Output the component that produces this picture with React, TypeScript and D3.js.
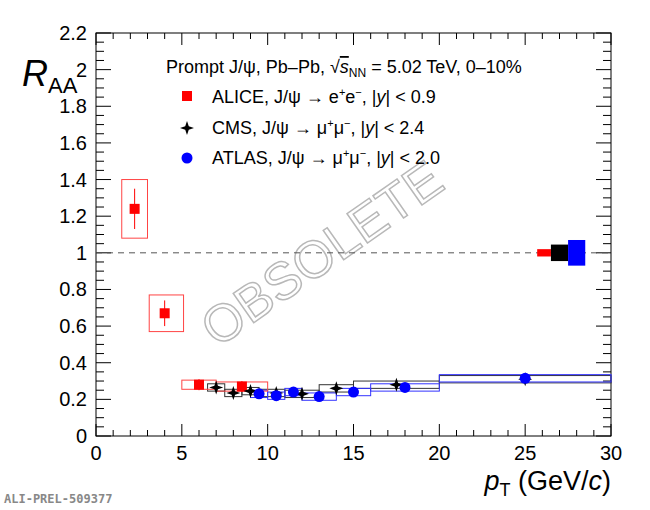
import * as d3 from 'd3';
import React from 'react';

const aliceX = [2.25, 4, 6, 8.5];
const aliceY = [1.24, 0.67, 0.28, 0.27];
const aliceStat = [0.11, 0.07, 0.03, 0.03];
const aliceBinLo = [1.5, 3.1, 5, 7];
const aliceBinHi = [3, 5.1, 7, 10];
const aliceSys = [0.16, 0.1, 0.025, 0.025];

const cmsX = [7, 8, 9, 10.5, 12, 14, 17.5, 25];
const cmsY = [0.265, 0.235, 0.245, 0.235, 0.23, 0.26, 0.28, 0.31];
const cmsBinLo = [6.5, 7.5, 8.5, 9.5, 11, 13, 15, 20];
const cmsBinHi = [7.5, 8.5, 9.5, 11, 13, 15, 20, 30];
const cmsSys = [0.02, 0.02, 0.02, 0.02, 0.02, 0.02, 0.02, 0.02];

const atlasX = [9.5, 10.5, 11.5, 13, 15, 18, 25];
const atlasY = [0.23, 0.22, 0.24, 0.215, 0.24, 0.265, 0.315];
const atlasBinLo = [9, 10, 11, 12, 14, 16, 20];
const atlasBinHi = [10, 11, 12, 14, 16, 20, 30];
const atlasSys = [0.02, 0.02, 0.02, 0.02, 0.02, 0.02, 0.02];

const globalLo = [25.7, 26.5, 27.5];
const globalHi = [26.5, 27.5, 28.5];
const globalUnc = [0.02, 0.045, 0.07];
const globalColor = ['#ff0000', '#000000', '#0000ff'];

const yTicks = [0, 0.2, 0.4, 0.6, 0.8, 1, 1.2, 1.4, 1.6, 1.8, 2, 2.2];
const xTicks = [0, 5, 10, 15, 20, 25, 30];

export default function App() {
  const x = d3.scaleLinear().domain([0, 30]).range([96, 611]);
  const y = d3.scaleLinear().domain([0, 2.2]).range([436, 33]);
  const font = 'Liberation Sans, Arial, sans-serif';
  const minorY = d3.range(0, 2.2001, 0.05);
  const minorX = d3.range(0, 30.001, 1);
  const isMajorY = (t) => Math.abs(t * 5 - Math.round(t * 5)) < 1e-6;

  const boxes = (lo, hi, ys, sys, color) =>
    ys.map((v, i) => (
      <rect key={i} x={x(lo[i])} y={y(v + sys[i])} width={x(hi[i]) - x(lo[i])} height={y(v - sys[i]) - y(v + sys[i])}
        fill="none" stroke={color} strokeWidth={1} />
    ));

  const star = (cx, cy, k) => {
    const pts = d3.range(8).map((j) => {
      const a = (j * Math.PI) / 4 - Math.PI / 2;
      const r = j % 2 === 0 ? 7 : 2.5;
      return [cx + r * Math.cos(a), cy + r * Math.sin(a)];
    });
    return <polygon key={k} points={pts.map((p) => p.join(',')).join(' ')} fill="#000" />;
  };

  return (
    <svg width={650} height={510} style={{ position: 'absolute', left: 0, top: 0 }} fontFamily={font}>
      <rect width={650} height={510} fill="#fff" />
      <rect x={96} y={33} width={515} height={403} fill="none" stroke="#000" />
      {minorY.map((t, i) => (
        <line key={'my' + i} x1={96} x2={isMajorY(t) ? 111 : 104} y1={y(t)} y2={y(t)} stroke="#000" />
      ))}
      {minorY.map((t, i) => (
        <line key={'myr' + i} x1={611} x2={isMajorY(t) ? 596 : 603} y1={y(t)} y2={y(t)} stroke="#000" />
      ))}
      {minorX.map((t, i) => (
        <line key={'mx' + i} y1={436} y2={t % 5 === 0 ? 424 : 430} x1={x(t)} x2={x(t)} stroke="#000" />
      ))}
      {minorX.map((t, i) => (
        <line key={'mxt' + i} y1={33} y2={t % 5 === 0 ? 45 : 39} x1={x(t)} x2={x(t)} stroke="#000" />
      ))}
      {yTicks.map((t) => (
        <text key={'yt' + t} x={87} y={y(t) + 7} textAnchor="end" fontSize={20}>{d3.format('~g')(t)}</text>
      ))}
      {xTicks.map((t) => (
        <text key={'xt' + t} x={x(t)} y={460} textAnchor="middle" fontSize={20}>{t}</text>
      ))}
      <text x={22} y={86} fontSize={36} fontStyle="italic">R<tspan fontSize={22} fontStyle="normal" dy={7}>AA</tspan></text>
      <text x={611} y={490} textAnchor="end" fontSize={27}>
        <tspan fontStyle="italic">p</tspan><tspan fontSize={18} dy={6}>T</tspan><tspan dy={-6}> (GeV/</tspan><tspan fontStyle="italic">c</tspan>)
      </text>
      <text x={4} y={503} fontSize={12} fontFamily="DejaVu Sans Mono" fontWeight="bold" fill="#888">ALI-PREL-509377</text>

      <text x={332} y={268} textAnchor="middle" fontSize={52} fill="none" stroke="#b8b8b8" strokeWidth={1.5}
        transform="rotate(-35 332 268)">OBSOLETE</text>

      <line x1={96} x2={611} y1={y(1)} y2={y(1)} stroke="#555" strokeDasharray="6,5" />

      {globalLo.map((lo, i) => (
        <rect key={'g' + i} x={x(lo)} y={y(1 + globalUnc[i])} width={x(globalHi[i]) - x(lo)} height={y(1 - globalUnc[i]) - y(1 + globalUnc[i])} fill={globalColor[i]} />
      ))}

      {boxes(cmsBinLo, cmsBinHi, cmsY, cmsSys, '#333')}
      {boxes(atlasBinLo, atlasBinHi, atlasY, atlasSys, '#3333ff')}
      {boxes(aliceBinLo, aliceBinHi, aliceY, aliceSys, '#ff4444')}

      {aliceX.map((v, i) => (
        <g key={'a' + i}>
          <line x1={x(v)} x2={x(v)} y1={y(aliceY[i] + aliceStat[i])} y2={y(aliceY[i] - aliceStat[i])} stroke="#f00" />
          <rect x={x(v) - 5} y={y(aliceY[i]) - 5} width={10} height={10} fill="#f00" />
        </g>
      ))}
      {cmsX.map((v, i) => star(x(v), y(cmsY[i]), 'c' + i))}
      {atlasX.map((v, i) => (
        <circle key={'at' + i} cx={x(v)} cy={y(atlasY[i])} r={5.5} fill="#0000ff" />
      ))}

      <text x={166} y={73} fontSize={18}>Prompt J/ψ, Pb–Pb, <tspan>√</tspan><tspan textDecoration="overline" fontStyle="italic">s</tspan><tspan fontSize={12} dy={4}>NN</tspan><tspan dy={-4}> = 5.02 TeV, 0–10%</tspan></text>
      <rect x={182} y={91} width={10} height={10} fill="#f00" />
      <text x={212} y={103} fontSize={18}>ALICE, J/ψ → e<tspan fontSize={11} dy={-7}>+</tspan><tspan dy={7}>e</tspan><tspan fontSize={11} dy={-7}>−</tspan><tspan dy={7}>, |</tspan><tspan fontStyle="italic">y</tspan>| &lt; 0.9</text>
      {star(187, 128, 'ls')}
      <text x={212} y={134} fontSize={18}>CMS, J/ψ → μ<tspan fontSize={11} dy={-7}>+</tspan><tspan dy={7}>μ</tspan><tspan fontSize={11} dy={-7}>−</tspan><tspan dy={7}>, |</tspan><tspan fontStyle="italic">y</tspan>| &lt; 2.4</text>
      <circle cx={187} cy={158} r={5.5} fill="#0000ff" />
      <text x={212} y={164} fontSize={18}>ATLAS, J/ψ → μ<tspan fontSize={11} dy={-7}>+</tspan><tspan dy={7}>μ</tspan><tspan fontSize={11} dy={-7}>−</tspan><tspan dy={7}>, |</tspan><tspan fontStyle="italic">y</tspan>| &lt; 2.0</text>
    </svg>
  );
}
